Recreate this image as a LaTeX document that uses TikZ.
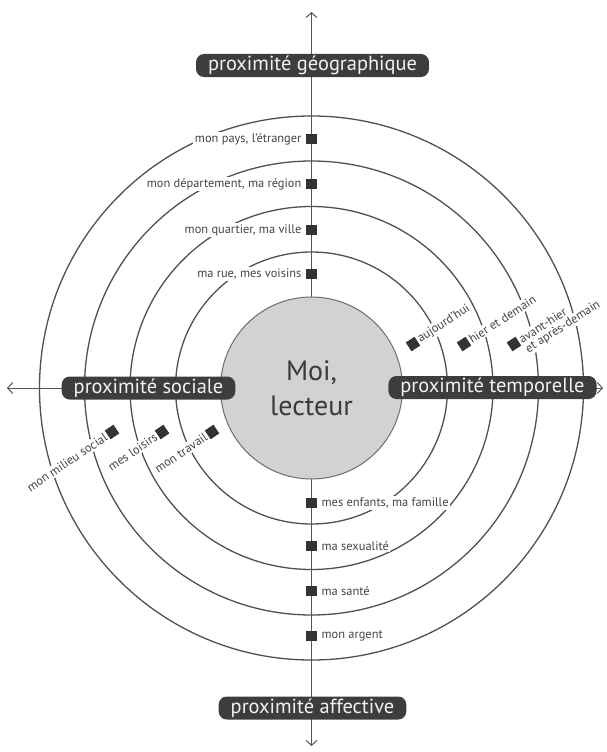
\documentclass[tikz,border=0pt]{standalone}
\usepackage{fontspec}
\setmainfont{PT Sans}
\usetikzlibrary{arrows.meta}
\definecolor{boxc}{HTML}{3D3D3D}
\definecolor{boxtext}{HTML}{F2F2F2}
\definecolor{ringc}{HTML}{505050}
\definecolor{axisc}{HTML}{555555}
\definecolor{lblc}{HTML}{444444}
\definecolor{sqc}{HTML}{333333}
\definecolor{centerc}{HTML}{D2D2D2}
\definecolor{centerb}{HTML}{6E6E6E}
\definecolor{centert}{HTML}{3A3A3A}
\begin{document}
\begin{tikzpicture}[x=1pt,y=-1pt,
  ring/.style={draw=ringc, line width=1.3pt},
  axisline/.style={draw=axisc, line width=1pt, {Straight Barb[length=5pt,width=11pt]}-{Straight Barb[length=5pt,width=11pt]}},
  tag/.style={fill=boxc, text=boxtext, rounded corners=8pt, font=\fontsize{20.4}{22}\selectfont, inner xsep=12pt, inner ysep=0pt, minimum height=23pt},
  lbl/.style={fill=white, text=lblc, font=\fontsize{12.4}{14}\selectfont, inner sep=1.5pt},
  sq/.style={fill=sqc, minimum size=10.5pt, inner sep=0pt},
  centre/.style={circle, fill=centerc, draw=centerb, line width=1pt, minimum size=182pt, inner sep=0pt, align=center, text=centert, font=\fontsize{28}{35}\selectfont}
]
\useasboundingbox (0,0) rectangle (606,752);
\coordinate (C) at (311.5,388);
\coordinate (T) at (311.5,12);
\coordinate (B) at (311.5,746);
\coordinate (L) at (7,388);
\coordinate (R) at (603,388);

% rings
\foreach \r in {136,181.5,227,272} \draw[ring] (C) circle[radius=\r pt];

% axes
\draw[axisline] (T) -- (B);
\draw[axisline] (L) -- (R);

% centre
\node[centre] (moi) at (C) {Moi,\\lecteur};

% top (geographic)
\node[sq] (g1) at (311.5,274) {};
\node[sq] (g2) at (311.5,230) {};
\node[sq] (g3) at (311.5,184) {};
\node[sq] (g4) at (311.5,139) {};
\node[lbl, anchor=east] (tg1) at ([xshift=-3pt]g1.west) {ma rue, mes voisins};
\node[lbl, anchor=east] (tg2) at ([xshift=-3pt]g2.west) {mon quartier, ma ville};
\node[lbl, anchor=east] (tg3) at ([xshift=-3pt]g3.west) {mon département, ma région};
\node[lbl, anchor=east] (tg4) at ([xshift=-3pt]g4.west) {mon pays, l’étranger};

% bottom (affective)
\node[sq] (a1) at (311.5,503) {};
\node[sq] (a2) at (311.5,546) {};
\node[sq] (a3) at (311.5,591) {};
\node[sq] (a4) at (311.5,636) {};
\node[lbl, anchor=west] (ta1) at ([xshift=3pt]a1.east) {mes enfants, ma famille};
\node[lbl, anchor=west] (ta2) at ([xshift=3pt]a2.east) {ma sexualité};
\node[lbl, anchor=west] (ta3) at ([xshift=3pt]a3.east) {ma santé};
\node[lbl, anchor=west] (ta4) at ([xshift=3pt]a4.east) {mon argent};

% right (temporal)
\node[sq, rotate=33] (t1) at (413,344) {};
\node[sq, rotate=33] (t2) at (464,344) {};
\node[sq, rotate=33] (t3) at (514,344) {};
\node[lbl, anchor=west, rotate=33] (tt1) at (t1.east) {aujourd’hui};
\node[lbl, anchor=west, rotate=33] (tt2) at (t2.east) {hier et demain};
\node[lbl, anchor=west, rotate=33] (tt3) at (t3.east) {avant-hier};
\node[lbl, anchor=north west, rotate=33, inner ysep=0.5pt] (tt3b) at (tt3.south west) {et après-demain};

% left (social)
\node[sq, rotate=34] (s1) at (212,432) {};
\node[sq, rotate=34] (s2) at (162,432) {};
\node[sq, rotate=34] (s3) at (112,432) {};
\node[lbl, anchor=east, rotate=34] (ts1) at (s1.west) {mon travail};
\node[lbl, anchor=east, rotate=34] (ts2) at (s2.west) {mes loisirs};
\node[lbl, anchor=east, rotate=34] (ts3) at (s3.west) {mon milieu social};

% axis tags
\node[tag] (geo) at (312.5,65.5) {proximité géographique};
\node[tag] (soc) at (148.5,388) {proximité sociale};
\node[tag] (tem) at (492.5,387.5) {proximité temporelle};
\node[tag] (aff) at (312.5,708) {proximité affective};
\end{tikzpicture}
\end{document}
